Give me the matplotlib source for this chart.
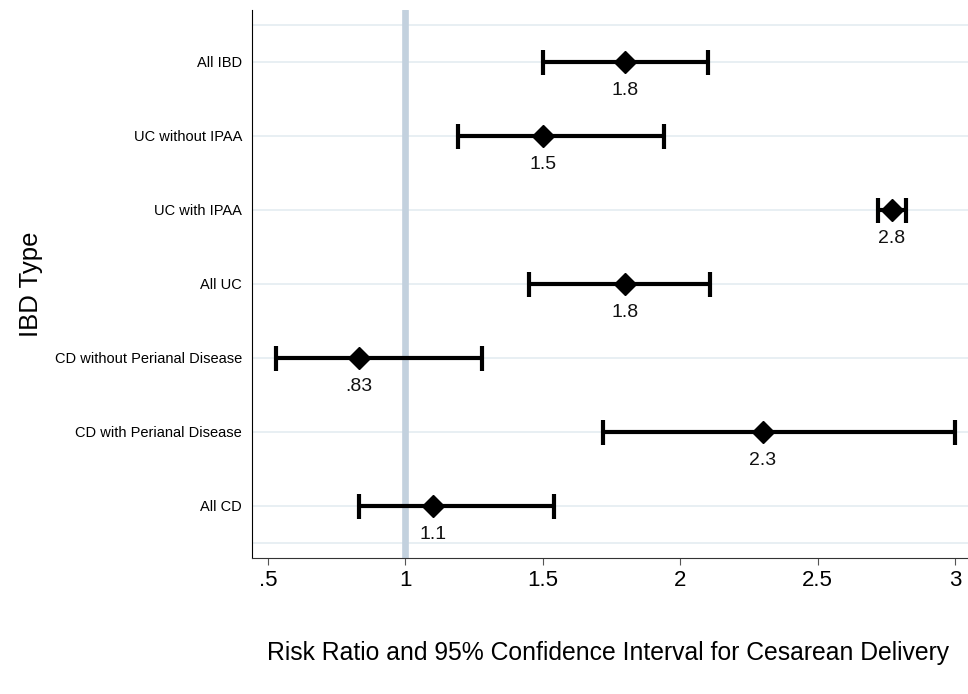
import matplotlib.pyplot as plt

# dados (de cima para baixo)
grupos = ["All IBD", "UC without IPAA", "UC with IPAA", "All UC",
          "CD without Perianal Disease", "CD with Perianal Disease", "All CD"]
rr = [1.80, 1.50, 2.77, 1.80, 0.83, 2.30, 1.10]
ic_inf = [1.50, 1.19, 2.72, 1.45, 0.53, 1.72, 0.83]
ic_sup = [2.10, 1.94, 2.82, 2.11, 1.28, 3.00, 1.54]
rotulos = ["1.8", "1.5", "2.8", "1.8", ".83", "2.3", "1.1"]

xticks = [0.5, 1, 1.5, 2, 2.5, 3]
xtick_labels = [".5", "1", "1.5", "2", "2.5", "3"]

plt.rcParams["font.family"] = ["Liberation Sans", "DejaVu Sans"]

fig = plt.figure(figsize=(9.68, 6.94), dpi=100)
ax = fig.add_axes([0.2603, 0.196, 0.7397, 0.7896])

n = len(grupos)
posicoes = list(range(n, 0, -1))

# linhas de grade horizontais
for y in [0.5] + posicoes + [n + 0.5]:
    ax.axhline(y, color="#e8eff3", lw=1.4, zorder=0)

# linha de referência em 1
ax.axvline(1, color="#c3d1de", lw=4.8, zorder=1, solid_capstyle="round")

erros = [[r - lo for r, lo in zip(rr, ic_inf)], [hi - r for r, hi in zip(rr, ic_sup)]]
ax.errorbar(rr, posicoes, xerr=erros, fmt="D", color="black", ms=11.5,
            elinewidth=3, capsize=9, capthick=3, zorder=3)

for x, y, t in zip(rr, posicoes, rotulos):
    ax.text(x, y - 0.27, t, ha="center", va="top", fontsize=14, color="#111111")

ax.set_xlim(0.442, 3.047)
ax.set_ylim(0.297, 7.70)
ax.set_xticks(xticks)
ax.set_xticklabels(xtick_labels, fontsize=16)
ax.set_yticks(posicoes)
ax.set_yticklabels(grupos, fontsize=10.5)
ax.tick_params(axis="y", length=0, pad=7)
ax.tick_params(axis="x", length=5, color="#555555", pad=4)

ax.spines["right"].set_visible(False)
ax.spines["top"].set_visible(False)
ax.spines["left"].set_color("black")
ax.spines["bottom"].set_color("#333333")

ax.set_ylabel("IBD Type", fontsize=18.5)
ax.set_xlabel("Risk Ratio and 95% Confidence Interval for Cesarean Delivery",
              fontsize=17.8)
ax.yaxis.set_label_coords(-0.292, 0.5)
ax.xaxis.set_label_coords(0.497, -0.152)

fig.savefig("out.png", dpi=100)
